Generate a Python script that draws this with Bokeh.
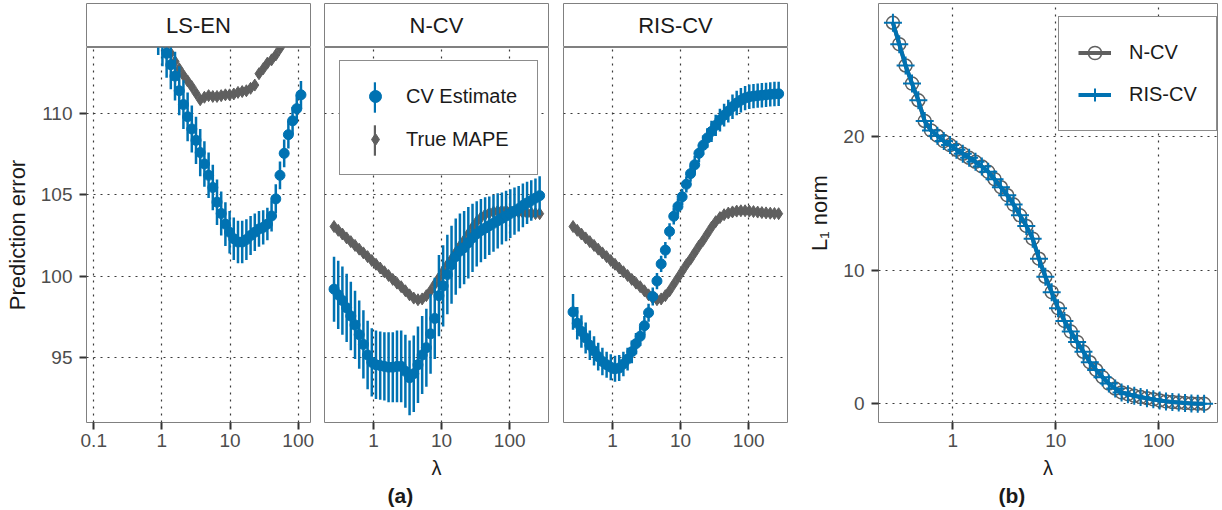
from bokeh.plotting import figure
from bokeh.models import (Range1d, FixedTicker, CustomJSTickFormatter, Legend,
                          LegendItem, Label, Title)
from bokeh.core.properties import value
from bokeh.layouts import row, column
from bokeh.embed import file_html
from bokeh.resources import INLINE

# ---------------- data ----------------
panel_names = ["LS-EN", "N-CV", "RIS-CV"]

# lambda grid shared by N-CV, RIS-CV and panel (b)
lam = [0.263, 0.303, 0.349, 0.403, 0.464, 0.535, 0.616, 0.710, 0.819, 0.943,
       1.087, 1.253, 1.444, 1.664, 1.918, 2.211, 2.548, 2.937, 3.384, 3.899,
       4.495, 5.180, 5.970, 6.881, 7.929, 9.138, 10.53, 12.14, 13.99, 16.12,
       18.58, 21.41, 24.68, 28.44, 32.77, 37.78, 43.54, 50.17, 57.81, 66.64,
       76.80, 88.51, 102.0, 117.6, 135.5, 156.2, 179.9, 207.4, 239.0, 275.4]

# LS-EN lambda grid (part that reaches the visible window)
lam_lsen = [0.766, 0.883, 1.018, 1.173, 1.351, 1.557, 1.795, 2.069, 2.384, 2.747,
            3.165, 3.648, 4.203, 4.844, 5.583, 6.434, 7.413, 8.543, 9.845, 11.34,
            13.07, 15.07, 17.36, 20.01, 23.06, 26.57, 30.62, 35.29, 40.66, 46.86,
            54.00, 62.23, 71.71, 82.64, 95.24, 109.7]

lsen_cv = [115.8, 115.1, 114.4, 113.7, 113.0, 112.3, 111.4, 110.55, 109.8, 109.05,
           108.35, 107.6, 106.9, 106.2, 105.45, 104.55, 103.85, 103.2, 102.7, 102.3,
           102.1, 102.1, 102.25, 102.5, 102.7, 102.9, 103.0, 103.2, 103.7, 104.75,
           106.2, 107.55, 108.7, 109.55, 110.3, 111.15]
lsen_se = [1.5, 1.5, 1.5, 1.5, 1.5, 1.5, 1.5, 1.5, 1.5, 1.45,
           1.45, 1.45, 1.4, 1.4, 1.4, 1.4, 1.35, 1.35, 1.3, 1.3,
           1.3, 1.3, 1.25, 1.2, 1.15, 1.1, 1.05, 1.0, 0.95, 0.9,
           0.85, 0.85, 0.85, 0.85, 0.85, 0.85]
lsen_true = [115.6, 115.1, 114.6, 114.2, 113.7, 113.2, 112.75, 112.35, 112.0, 111.65,
             111.25, 110.85, 111.0, 111.1, 111.05, 111.05, 111.1, 111.15, 111.15, 111.2,
             111.3, 111.35, 111.4, 111.55, 111.75, 112.45, 112.75, 113.1, 113.3, 113.6,
             114.0, 114.4, 114.9, 115.4, 115.9, 116.4]

ncv_cv = [99.2, 98.85, 98.5, 98.05, 97.55, 97.0, 96.4, 95.8, 95.15, 94.7,
          94.55, 94.5, 94.45, 94.4, 94.4, 94.45, 94.45, 94.15, 93.75, 94.0,
          94.55, 95.15, 95.6, 96.45, 97.4, 98.8, 99.4, 100.1, 100.7, 101.2,
          101.55, 101.75, 102.05, 102.35, 102.6, 102.8, 102.95, 103.1, 103.25, 103.4,
          103.55, 103.7, 103.85, 104.0, 104.15, 104.35, 104.5, 104.65, 104.8, 104.95]
ncv_se = [2.0, 2.1, 2.1, 2.1, 2.1, 2.1, 2.1, 2.1, 2.1, 2.1,
          2.1, 2.1, 2.1, 2.15, 2.15, 2.2, 2.2, 2.25, 2.3, 2.35,
          2.35, 2.4, 2.4, 2.45, 2.5, 2.5, 2.5, 2.45, 2.4, 2.35,
          2.3, 2.25, 2.2, 2.1, 2.0, 1.95, 1.9, 1.8, 1.75, 1.7,
          1.6, 1.55, 1.5, 1.45, 1.4, 1.35, 1.3, 1.25, 1.2, 1.2]

ris_cv = [97.8, 97.1, 96.6, 96.2, 95.75, 95.4, 95.05, 94.75, 94.55, 94.4,
          94.3, 94.35, 94.6, 94.9, 95.35, 95.85, 96.3, 96.95, 97.75, 98.75,
          99.7, 100.75, 101.6, 102.75, 103.68, 104.28, 104.88, 105.65, 106.3, 106.85,
          107.55, 108.05, 108.5, 108.9, 109.27, 109.6, 109.9, 110.15, 110.42, 110.65,
          110.82, 110.95, 111.03, 111.07, 111.1, 111.12, 111.15, 111.18, 111.2, 111.21]
ris_se = [1.1, 1.0, 1.0, 0.95, 0.9, 0.9, 0.85, 0.85, 0.8, 0.8,
          0.8, 0.8, 0.75, 0.7, 0.7, 0.65, 0.6, 0.6, 0.55, 0.55,
          0.5, 0.5, 0.5, 0.5, 0.5, 0.5, 0.5, 0.5, 0.5, 0.55,
          0.55, 0.6, 0.6, 0.65, 0.65, 0.7, 0.7, 0.7, 0.75, 0.75,
          0.75, 0.75, 0.75, 0.75, 0.75, 0.75, 0.75, 0.75, 0.75, 0.75]

true_mape = [103.05, 102.82, 102.59, 102.35, 102.12, 101.89, 101.66, 101.43, 101.2, 100.96,
             100.73, 100.5, 100.27, 100.04, 99.8, 99.57, 99.35, 99.1, 98.85, 98.65,
             98.55, 98.6, 98.8, 99.1, 99.5, 99.9, 100.3, 100.7, 101.05, 101.45,
             101.85, 102.2, 102.6, 103.0, 103.35, 103.6, 103.78, 103.88, 103.95, 104.0,
             104.02, 104.02, 104.0, 103.97, 103.94, 103.91, 103.89, 103.87, 103.85, 103.84]

l1_ncv = [28.5, 26.9, 25.3, 23.95, 22.7, 21.15, 20.45, 20.05, 19.65, 19.35,
          19.0, 18.7, 18.4, 18.1, 17.75, 17.35, 16.8, 16.2, 15.6, 14.9,
          14.1, 13.3, 12.35, 10.85, 9.5, 8.35, 7.15, 6.2, 5.4, 4.63,
          3.89, 3.11, 2.53, 1.99, 1.51, 1.14, 0.85, 0.72, 0.6, 0.5,
          0.42, 0.33, 0.25, 0.18, 0.13, 0.09, 0.05, 0.03, 0.01, 0.0]
l1_ris = [28.5, 26.9, 25.3, 23.95, 22.7, 21.15, 20.45, 20.05, 19.65, 19.35,
          19.0, 18.7, 18.4, 18.1, 17.75, 17.35, 16.8, 16.2, 15.6, 14.9,
          14.1, 13.3, 12.35, 10.85, 9.5, 8.35, 7.15, 6.2, 5.4, 4.63,
          3.89, 3.11, 2.53, 1.99, 1.51, 1.14, 0.85, 0.72, 0.6, 0.5,
          0.42, 0.33, 0.25, 0.18, 0.13, 0.09, 0.05, 0.03, 0.01, 0.0]

x_ticks = [0.1, 1, 10, 100]
y_ticks_a = [95, 100, 105, 110]
y_ticks_b = [0, 10, 20]

# ---------------- style ----------------
BLUE = "#0072B2"
GRAY = "#5f5f5f"
FONT = "Liberation Sans"
FRAME_COL = "#808080"
GRID_COL = "#3a3a3a"
TEXT_COL = "#1a1a1a"


def style_axis(ax, standoff):
    ax.axis_line_color = None
    ax.major_tick_line_color = "#333333"
    ax.major_tick_line_width = 2
    ax.major_tick_out = 7
    ax.major_tick_in = 0
    ax.minor_tick_line_color = None
    ax.major_label_standoff = standoff
    ax.major_label_text_font = FONT
    ax.major_label_text_font_size = "19px"
    ax.major_label_text_color = "#4d4d4d"
    ax.axis_label_text_font = FONT
    ax.axis_label_text_font_style = "normal"
    ax.axis_label_text_color = TEXT_COL


def make_fig(width, height, bl, br, bt, bb, xr, yr, yt, show_y):
    p = figure(width=width, height=height, x_axis_type="log",
               x_range=Range1d(*xr), y_range=Range1d(*yr),
               toolbar_location=None, output_backend="svg",
               min_border_left=bl, min_border_right=br,
               min_border_top=bt, min_border_bottom=bb,
               y_axis_location="left" if show_y else None)
    p.outline_line_color = FRAME_COL
    p.outline_line_width = 1
    p.background_fill_color = "white"
    p.border_fill_color = "white"
    p.xaxis.ticker = FixedTicker(ticks=x_ticks, minor_ticks=[])
    p.xaxis.formatter = CustomJSTickFormatter(code="return tick.toString();")
    style_axis(p.xaxis, 4)
    p.xaxis.axis_label_text_font_size = "20px"
    p.xaxis.axis_label_standoff = 7
    if show_y:
        p.yaxis.ticker = FixedTicker(ticks=yt, minor_ticks=[])
        style_axis(p.yaxis, 7)
        p.yaxis.axis_label_text_font_size = "22px"
        p.yaxis.axis_label_standoff = 8
    p.xgrid.ticker = FixedTicker(ticks=x_ticks, minor_ticks=[])
    p.ygrid.ticker = FixedTicker(ticks=yt, minor_ticks=[])
    for g in (p.xgrid, p.ygrid):
        g.grid_line_color = GRID_COL
        g.grid_line_dash = "2 5"
        g.grid_line_width = 1.2
    return p


def make_strip(label, width, bl, br):
    s = figure(width=width, height=47, x_range=(0, 1), y_range=(0, 1),
               toolbar_location=None, output_backend="svg",
               min_border_left=bl, min_border_right=br,
               min_border_top=3, min_border_bottom=0,
               x_axis_location=None, y_axis_location=None)
    s.grid.visible = False
    s.outline_line_color = FRAME_COL
    s.border_fill_color = "white"
    s.add_layout(Label(x=0.5, y=0.5, text=label, text_align="center",
                       text_baseline="middle", text_font=FONT,
                       text_font_size="22px", text_color=TEXT_COL))
    return s


def draw_panel(p, x, est, se, truth):
    spread = [2 * s for s in se]
    # True MAPE: points with a zero-length range
    r_true_rng = p.rect(x=x, y=truth, width=2.5, height=0, width_units="screen",
                        fill_color=GRAY, line_color=None)
    r_true = p.scatter(x, truth, marker="diamond", size=12, color=GRAY)
    # CV estimate: point +/- one standard error
    r_bar = p.rect(x=x, y=est, width=2.5, height=spread, width_units="screen",
                   fill_color=BLUE, line_color=None)
    r_dot = p.scatter(x, est, marker="circle", size=10, color=BLUE)
    return r_true_rng, r_true, r_bar, r_dot


def caption(text, offset):
    return Title(text=text, align="left", offset=offset, standoff=0,
                 text_font=FONT, text_font_size="21px", text_font_style="bold",
                 text_color=TEXT_COL)


XR_LSEN = (0.0783, 151.4)
XR = (0.1905, 371.5)
YR_A = (91.0, 114.06)
YR_B = (-1.40, 29.94)

# ---------------- panel (a) ----------------
W1, W2, W3, WB = 317, 239, 244, 422
p1 = make_fig(W1, 463, 86, 7, 0, 88, XR_LSEN, YR_A, y_ticks_a, True)
p1.yaxis.axis_label = "Prediction error"
draw_panel(p1, lam_lsen, lsen_cv, lsen_se, lsen_true)

p2 = make_fig(W2, 463, 7, 8, 0, 88, XR, YR_A, y_ticks_a, False)
p2.xaxis.axis_label = "λ"
tr2, t2, b2, d2 = draw_panel(p2, lam, ncv_cv, ncv_se, true_mape)
p2.add_layout(caption("(a)", 63), "below")

p3 = make_fig(W3, 463, 7, 13, 0, 88, XR, YR_A, y_ticks_a, False)
draw_panel(p3, lam, ris_cv, ris_se, true_mape)

# legend of panel (a): box, labels and point glyphs ...
leg_a = Legend(items=[LegendItem(label="CV Estimate", renderers=[d2]),
                      LegendItem(label="True MAPE", renderers=[t2])],
               location=(15, 247), padding=20, spacing=13,
               glyph_width=30, glyph_height=30, label_standoff=16,
               label_text_font=FONT, label_text_font_size="20px",
               label_text_color=TEXT_COL, border_line_color=TEXT_COL,
               border_line_width=1, background_fill_alpha=1.0)
p2.add_layout(leg_a)
# ... plus the vertical range strokes of the point-range keys (same rows;
# without a border the legend has no padding)
leg_a2 = Legend(items=[LegendItem(label=value(""), renderers=[b2]),
                       LegendItem(label=value(""), renderers=[tr2])],
                location=(48.5, 263), padding=0, spacing=5,
                glyph_width=3, glyph_height=38, label_standoff=0,
                label_text_font=FONT, label_text_font_size="20px",
                border_line_color=None, background_fill_alpha=0.0)
p2.add_layout(leg_a2)

s1 = make_strip(panel_names[0], W1, 86, 7)
s2 = make_strip(panel_names[1], W2, 7, 8)
s3 = make_strip(panel_names[2], W3, 7, 13)

# ---------------- panel (b) ----------------
pb = make_fig(WB, 510, 78, 5, 3, 88, XR, YR_B, y_ticks_b, True)
pb.xaxis.axis_label = "λ"
pb.yaxis.axis_label = "L\u2081 norm"
g_line = pb.line(lam, l1_ncv, line_color=GRAY, line_width=4)
g_pts = pb.scatter(lam, l1_ncv, marker="circle", size=13, fill_color=None,
                   line_color=GRAY, line_width=1.5)
b_line = pb.line(lam, l1_ris, line_color=BLUE, line_width=4)
b_pts = pb.scatter(lam, l1_ris, marker="cross", size=18, line_color=BLUE,
                   line_width=2)
leg_b = Legend(items=[LegendItem(label="N-CV", renderers=[g_line, g_pts]),
                      LegendItem(label="RIS-CV", renderers=[b_line, b_pts])],
               location=(180, 291), padding=19, spacing=9,
               glyph_width=33, glyph_height=33, label_standoff=18,
               label_text_font=FONT, label_text_font_size="20px",
               label_text_color=TEXT_COL, border_line_color=TEXT_COL,
               border_line_width=1, background_fill_alpha=1.0)
pb.add_layout(leg_b)
pb.add_layout(caption("(b)", 120), "below")

layout = row(column(s1, p1), column(s2, p2), column(s3, p3), pb)

with open("out.html", "w") as f:
    f.write(file_html(layout, INLINE))
